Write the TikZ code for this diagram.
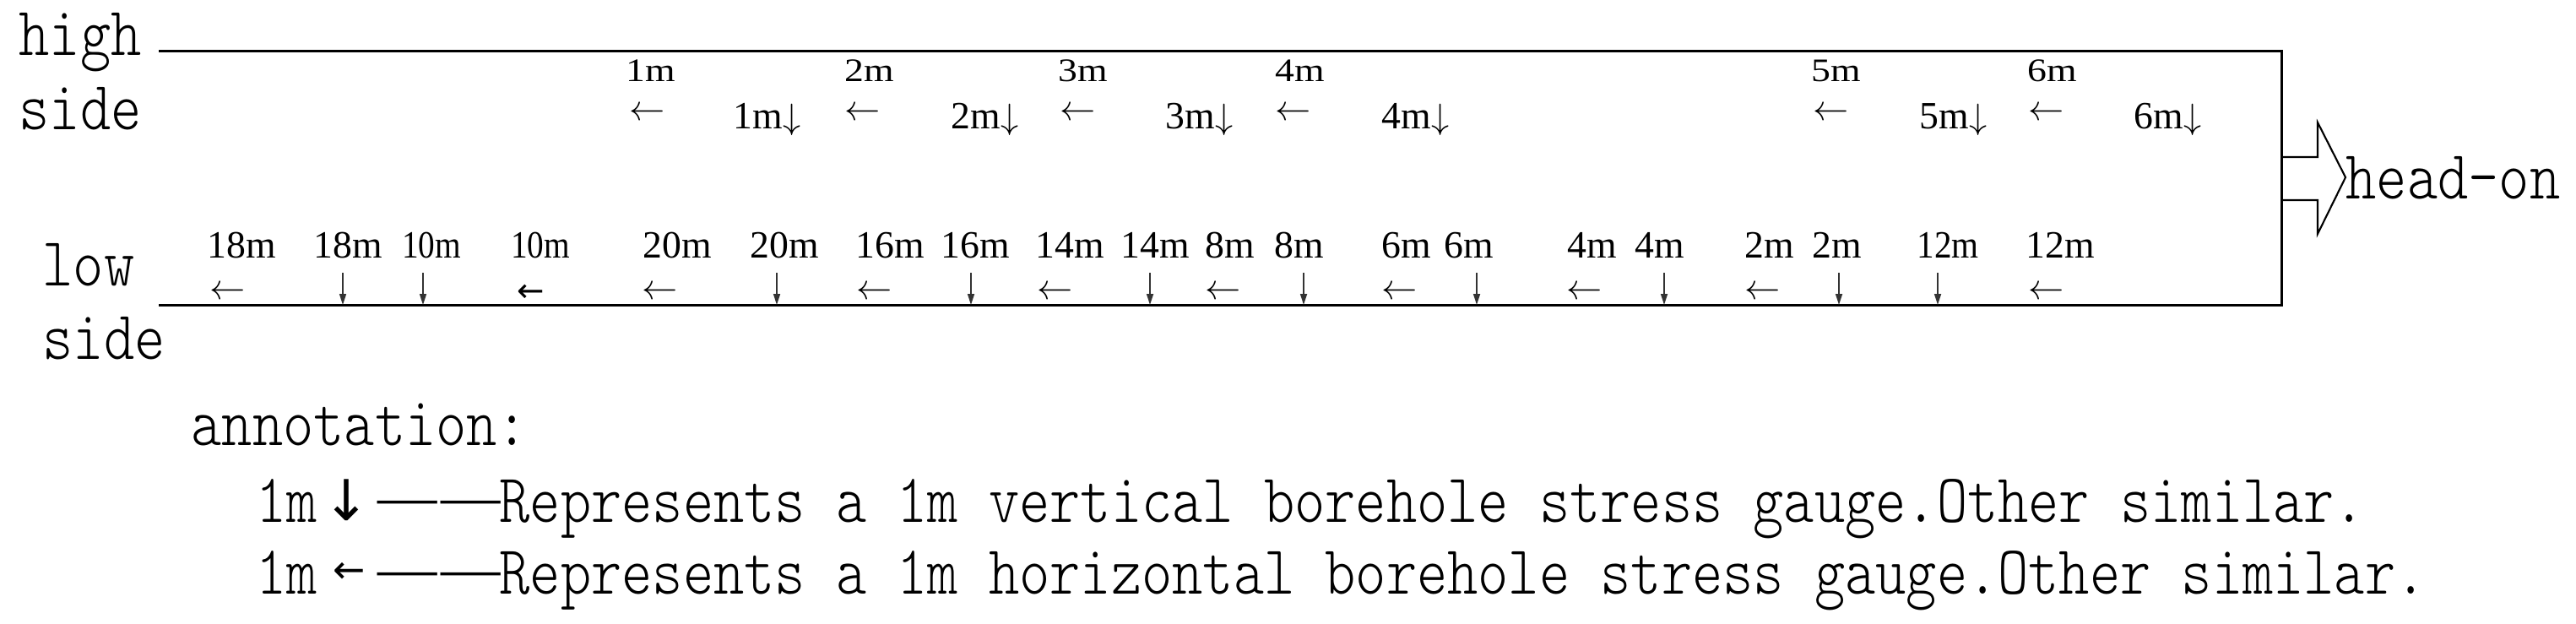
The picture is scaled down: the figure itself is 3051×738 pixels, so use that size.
\documentclass[tikz,border=0pt]{standalone}
\usepackage{fontspec}
\setmainfont{Liberation Serif}
\newfontfamily\monof[FakeStretch=0.842]{lmmonolt10-regular.otf}
\newfontfamily\arrf{DejaVu Sans}
\usetikzlibrary{arrows.meta}
\tikzset{
  lbl/.style={font=\fontsize{13}{15}\selectfont, inner sep=0pt, anchor=base},
  harr/.style={font=\fontsize{13}{15}\selectfont, inner sep=0pt, anchor=center},
  mono/.style={font=\monof\fontsize{23.3}{26}\selectfont, inner sep=0pt, anchor=base west},
  wall/.style={line width=0.85pt, line join=miter},
  varrow/.style={line width=0.45pt, draw=black!80, -{Triangle[length=0.13cm,width=0.08cm]}},
  blockarrow/.style={line width=0.6pt, line join=miter},
}
\begin{document}
\begin{tikzpicture}[x=0.01cm,y=-0.01cm]
\path[use as bounding box] (0,0) rectangle (3051,738);
% roadway outline
\coordinate (TL) at (188,60);
\coordinate (TR) at (2702,60);
\coordinate (BR) at (2702,361);
\coordinate (BL) at (188,361);
\draw[wall] (TL) -- (TR) -- (BR) -- (BL);
% head-on block arrow
\draw[blockarrow] (2702,186) -- (2745,186) -- (2745,145) -- (2778,210) -- (2745,277) -- (2745,237) -- (2702,237);
\node[mono] (headon) at (2778,235) {head-on};
% side labels
\node[mono] (high) at (22,65) {high};
\node[mono] (hside) at (22,153) {side};
\node[mono] (low) at (50,338) {low};
\node[mono] (lside) at (50,425) {side};
% top row
\foreach \n/\x [count=\i] in {1/771,2/1030,3/1283,4/1540,5/2175,6/2431}
  \node[lbl] (tl\i) at (\x,96) {\scalebox{1}[0.85]{\n m}};
\foreach \x [count=\i] in {767,1022,1277,1532,2169,2424}
  \node[harr] (th\i) at (\x,135) {$\leftarrow$};
\foreach \n/\x [count=\i] in {1/868,2/1126,3/1380,4/1636,5/2273,6/2527}
  \node[lbl, anchor=base west] (tv\i) at (\x,152) {\n m$\downarrow$};
% bottom row labels
\foreach \t/\x/\s [count=\i] in {18m/286/1,18m/412/1,10m/511/0.86,10m/640/0.86,20m/802/1,20m/929/1,16m/1054/1,16m/1155/1,14m/1267/1,14m/1368/1,8m/1457/1,8m/1539/1,6m/1666/1,6m/1740/1,4m/1886/1,4m/1966/1,2m/2096/1,2m/2176/1,12m/2307/0.9,12m/2440/1}
  \node[lbl] (bl\i) at (\x,305) {\scalebox{\s}[1]{\t}};
% bottom horizontal gauges
\foreach \x [count=\i] in {270,782,1036,1250,1449,1658,1877,2088,2424}
  \node[harr] (bh\i) at (\x,347) {$\leftarrow$};
\node[harr, font=\arrf\fontsize{11}{12}\selectfont] (bh10) at (629,347) {←};
% bottom vertical gauges
\foreach \x [count=\i] in {406,501,920,1150,1362,1544,1749,1971,2178,2295} {
  \coordinate (vs\i) at (\x,323);
  \coordinate (ve\i) at (\x,361);
  \draw[varrow] (vs\i) -- (ve\i);
}
% annotation
\node[mono] (ann) at (226,527) {annotation:};
\node[mono] (k1) at (303,618) {1m};
\node[inner sep=0pt, font=\arrf\fontsize{19}{22}\selectfont] (k1a) at (410,592) {↓};
\node[inner sep=0pt, font=\fontsize{20}{22}\selectfont] (k1d) at (520,602) {—\kern0.06em—};
\node[mono] (k1t) at (591,618) {Represents a 1m vertical borehole stress gauge.Other similar.};
\node[mono] (k2) at (303,703) {1m};
\node[inner sep=0pt, font=\arrf\fontsize{13}{14}\selectfont] (k2a) at (414,678) {←};
\node[inner sep=0pt, font=\fontsize{20}{22}\selectfont] (k2d) at (520,687) {—\kern0.06em—};
\node[mono] (k2t) at (591,703) {Represents a 1m horizontal borehole stress gauge.Other similar.};
\end{tikzpicture}
\end{document}
